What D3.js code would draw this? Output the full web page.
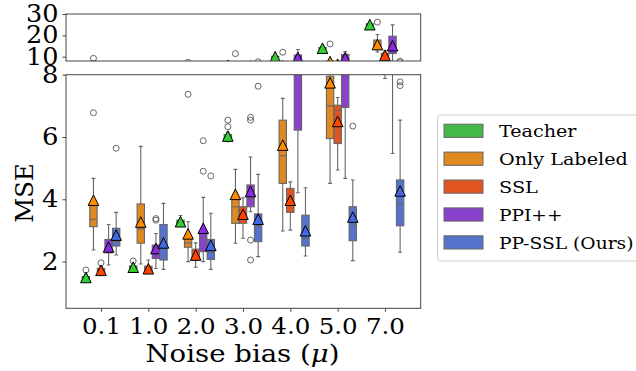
<!DOCTYPE html>
<html>
<head>
<meta charset="utf-8">
<script src="https://cdn.jsdelivr.net/npm/d3@7"></script>
<style>
  body { margin: 0; background: #fff; }
  text { font-family: "DejaVu Serif", serif; fill: #000; }
</style>
</head>
<body>
<svg id="chart" width="636" height="371"></svg>
<script>
// groups on the x axis and the five methods (hue)
const groups = ["0.1", "1.0", "2.0", "3.0", "4.0", "5.0", "7.0"];
const methods = ["Teacher", "Only Labeled", "SSL", "PPI++", "PP-SSL (Ours)"];
const meanColors = ["#32cd32", "#ff8c00", "#ff4500", "#8a2be2", "#4169e1"];
const boxColors = ["#45b945", "#df8920", "#df5420", "#8942cb", "#5573cd"];

// box stats per group: [whisker low, q1, median, q3, whisker high]
const teacherStats = [[1.40,1.44,1.47,1.52,1.58],[1.74,1.78,1.81,1.86,1.92],[3.15,3.22,3.27,3.33,3.48],[5.85,5.95,6.0,6.08,6.15],[9.5,9.8,9.95,10.2,10.5],[13.3,13.7,13.95,14.3,14.7],[24.0,24.6,24.9,25.4,26.0]];
const teacherMean = [1.49, 1.82, 3.28, 6.03, 10.0, 14.0, 25.0];
const teacherFliers = [[1.73], [2.02], [], [6.33, 6.54], [], [], []];

const labeledStats = [[2.37,3.12,3.36,3.85,4.67],[1.92,2.59,3.05,3.85,5.7],[2.0,2.46,2.6,2.75,3.28],[2.59,3.23,3.76,4.0,4.96],[2.98,4.51,5.4,6.54,7.24],[4.51,5.95,7.0,7.95,8.3],[12.2,13.5,15.0,17.8,20.4]];
const labeledMean = [3.97, 3.27, 2.89, 4.16, 5.74, 7.74, 15.7];
const labeledFliers = [[6.78, 9.26], [], [7.37], [11.45], [12.1], [16.0], [26.2]];

const sslStats = [[1.6,1.66,1.7,1.78,1.85],[1.65,1.7,1.75,1.85,2.05],[1.82,2.05,2.15,2.4,2.6],[2.75,3.23,3.4,3.76,4.05],[3.01,3.58,3.9,4.35,4.56],[4.94,5.79,6.85,7.02,7.27],[7.88,9.3,10.4,11.6,12.8]];
const sslMean = [1.72, 1.77, 2.21, 3.52, 3.97, 6.5, 10.7];
const sslFliers = [[1.96], [], [], [], [], [], []];

const ppiStats = [[1.89,2.28,2.35,2.71,3.19],[1.78,2.1,2.25,2.53,2.9],[2.0,2.32,2.75,2.9,4.06],[3.6,3.76,4.0,4.46,5.36],[4.21,6.22,8.5,10.8,13.4],[4.67,6.95,9.0,11.1,12.4],[5.47,11.5,14.5,19.6,24.9]];
const ppiMean = [2.47, 2.42, 3.07, 4.25, 9.7, 9.5, 15.2];
const ppiFliers = [[], [3.33, 3.38], [4.9, 5.88], [2.05, 2.69, 6.54, 6.63], [], [], []];

const ppsslStats = [[2.21,2.5,2.64,3.07,3.58],[1.75,2.05,2.45,3.19,3.87],[1.75,2.07,2.3,2.71,3.55],[2.16,2.64,3.15,3.53,4.8],[2.18,2.5,2.75,3.49,4.37],[2.03,2.67,3.2,3.76,4.62],[2.3,3.15,3.85,4.62,6.54]];
const ppsslMean = [2.85, 2.6, 2.52, 3.36, 2.99, 3.43, 4.27];
const ppsslFliers = [[5.64], [], [4.75], [7.63], [], [6.35], [7.65, 7.77]];

const allStats = [teacherStats, labeledStats, sslStats, ppiStats, ppsslStats];
const allMeans = [teacherMean, labeledMean, sslMean, ppiMean, ppsslMean];
const allFliers = [teacherFliers, labeledFliers, sslFliers, ppiFliers, ppsslFliers];

const svg = d3.select("#chart");
const left = 66, right = 420.7;
const lineGray = "#666";

const x = d3.scaleLinear().domain([-0.74, 6.755]).range([left, right]);
const hue = d3.scaleBand().domain(methods).range([-0.4, 0.4]);
const yTop = d3.scaleLinear().domain([8, 30]).range([61, 14]);
const yBot = d3.scaleLinear().domain([0.5, 8]).range([308.3, 74.7]);

// the reference text is a bit wider than plain DejaVu Serif: stretch to width
function stretch(sel, target) {
  sel.each(function () {
    const node = this;
    const w = node.getBBox().width;
    if (!w) return;
    const ax = +(node.getAttribute("x") || 0);
    const s = target(node) / w;
    const old = node.getAttribute("transform") || "";
    node.setAttribute("transform", old + " translate(" + ax + ",0) scale(" + s + ",1) translate(" + (-ax) + ",0)");
  });
}

const panels = [
  { name: "top", y: yTop, ticks: [10, 20, 30] },
  { name: "bot", y: yBot, ticks: [2, 4, 6, 8] }
];

const defs = svg.append("defs");

panels.forEach(function (p) {
  const y = p.y;
  const y0 = y.range()[1], y1 = y.range()[0];
  defs.append("clipPath").attr("id", "clip-" + p.name)
    .append("rect").attr("x", left).attr("y", y0).attr("width", right - left).attr("height", y1 - y0);

  const g = svg.append("g").attr("clip-path", "url(#clip-" + p.name + ")");

  methods.forEach(function (m, j) {
    const half = hue.bandwidth() / 2;
    allStats[j].forEach(function (s, i) {
      const cx = i + hue(m) + half;
      const xl = x(cx - half * 0.97), xr = x(cx + half * 0.97);
      const capL = x(cx - half / 2), capR = x(cx + half / 2);
      const px = x(cx);
      const mg = g.append("g");
      // whiskers
      mg.append("line").attr("x1", px).attr("x2", px).attr("y1", y(s[0])).attr("y2", y(s[1]))
        .attr("stroke", lineGray).attr("stroke-width", 1.1);
      mg.append("line").attr("x1", px).attr("x2", px).attr("y1", y(s[3])).attr("y2", y(s[4]))
        .attr("stroke", lineGray).attr("stroke-width", 1.1);
      // caps
      [s[0], s[4]].forEach(function (v) {
        mg.append("line").attr("x1", capL).attr("x2", capR).attr("y1", y(v)).attr("y2", y(v))
          .attr("stroke", lineGray).attr("stroke-width", 1.1);
      });
      // box
      mg.append("rect").attr("x", xl).attr("width", xr - xl)
        .attr("y", y(s[3])).attr("height", Math.max(0, y(s[1]) - y(s[3])))
        .attr("fill", boxColors[j]).attr("stroke", lineGray).attr("stroke-width", 1.1);
      // median
      mg.append("line").attr("x1", xl).attr("x2", xr).attr("y1", y(s[2])).attr("y2", y(s[2]))
        .attr("stroke", lineGray).attr("stroke-width", 1.1);
      // fliers
      allFliers[j][i].forEach(function (v) {
        mg.append("circle").attr("cx", px).attr("cy", y(v)).attr("r", 3)
          .attr("fill", "none").attr("stroke", "#555").attr("stroke-width", 0.9);
      });
      // mean marker
      const t = 5.3;
      mg.append("path")
        .attr("d", "M0," + (-t) + "L" + t + "," + t + "L" + (-t) + "," + t + "Z")
        .attr("transform", "translate(" + px + "," + y(allMeans[j][i]) + ")")
        .attr("fill", meanColors[j]).attr("stroke", "#000").attr("stroke-width", 1);
    });
  });

  // frame
  svg.append("rect").attr("x", left).attr("y", y0).attr("width", right - left).attr("height", y1 - y0)
    .attr("fill", "none").attr("stroke", "#444").attr("stroke-width", 1);

  // y axis
  const ax = svg.append("g").attr("transform", "translate(" + left + ",0)")
    .call(d3.axisLeft(y).tickValues(p.ticks).tickSize(3.5).tickPadding(4).tickFormat(d3.format("d")));
  ax.select(".domain").remove();
  ax.selectAll(".tick line").attr("stroke", "#444");
  const yt = ax.selectAll(".tick text").attr("font-size", 23.5).attr("font-family", "DejaVu Serif");
  stretch(yt, function (n) { return n.textContent.length > 1 ? 32.5 : 16.5; });
});

// x axis
const xa = svg.append("g").attr("transform", "translate(0,308.3)")
  .call(d3.axisBottom(x).tickValues(d3.range(groups.length)).tickSize(3.5).tickPadding(4)
    .tickFormat(function (d) { return groups[d]; }));
xa.select(".domain").remove();
xa.selectAll(".tick line").attr("stroke", "#444");
const xt = xa.selectAll(".tick text").attr("font-size", 22).attr("font-family", "DejaVu Serif")
  .attr("y", 26).attr("dy", null);
stretch(xt, function () { return 39; });

// axis labels
const xlab = svg.append("text").attr("x", 242.5).attr("y", 361.7).attr("text-anchor", "middle")
  .attr("font-size", 23.5);
xlab.append("tspan").text("Noise bias (");
xlab.append("tspan").attr("font-style", "italic").text("μ");
xlab.append("tspan").text(")");
stretch(xlab, function () { return 194; });

const ylab = svg.append("text").attr("transform", "translate(33,193) rotate(-90)")
  .attr("text-anchor", "middle").attr("font-size", 23.5).text("MSE");
stretch(ylab, function () { return 59.5; });

// legend
const legendWidths = [78.5, 129, 39, 63.5, 134.5];
const lg = svg.append("g");
lg.append("rect").attr("x", 437.5).attr("y", 115).attr("width", 230).attr("height", 146)
  .attr("rx", 3).attr("fill", "#fff").attr("stroke", "#ccc").attr("stroke-width", 1);
methods.forEach(function (m, j) {
  const cy = 130.8 + j * 27.9;
  lg.append("rect").attr("x", 444).attr("y", cy - 6.6).attr("width", 39).attr("height", 13.2)
    .attr("fill", boxColors[j]).attr("stroke", lineGray).attr("stroke-width", 1);
  const t = lg.append("text").attr("x", 499).attr("y", cy).attr("dy", "0.36em")
    .attr("font-size", 17).text(m);
  stretch(t, function () { return legendWidths[j]; });
});
</script>
</body>
</html>
